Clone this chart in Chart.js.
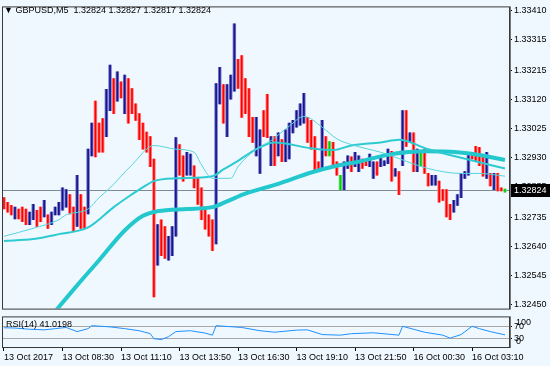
<!DOCTYPE html>
<html>
<head>
<meta charset="utf-8">
<script src="https://cdn.jsdelivr.net/npm/chart.js@4.4.0/dist/chart.umd.min.js"></script>
<style>
html, body { margin: 0; padding: 0; background: #f0f8ff; }
#wrap { position: relative; width: 550px; height: 366px; overflow: hidden; }
canvas { position: absolute; left: 0; }
#main { top: 0; }
#rsi { top: 310px; }
.lbl { position: absolute; font: 9px "Liberation Sans", Arial, sans-serif; color: #000; white-space: pre; z-index: 2; }
</style>
</head>
<body>
<div id="wrap">
  <canvas id="main" width="550" height="316"></canvas>
  <canvas id="rsi" width="550" height="56"></canvas>
  <div class="lbl" id="title" style="left:4px;top:5px"></div>
  <div class="lbl" id="rsiTitle" style="left:6px;top:319px"></div>
</div>
<script>
// GBPUSD M5, 13-16 Oct 2017. One drawn bar per two 5-minute periods.
const STEP = 2;

const tickIdx = [0, 32, 64, 96, 128, 160, 192, 224, 256];
const tickText = ['13 Oct 2017', '13 Oct 08:30', '13 Oct 11:10', '13 Oct 13:50', '13 Oct 16:30',
    '13 Oct 19:10', '13 Oct 21:50', '16 Oct 00:30', '16 Oct 03:10'];
const priceTicks = [1.33410, 1.33315, 1.33215, 1.33120, 1.33025, 1.32930, 1.32835,
    1.32735, 1.32640, 1.32545, 1.32450];
const lastQuote = [1.32824, 1.32827, 1.32817, 1.32824]; // open high low close
const rsiLast = 41.0198;

const barHigh = [
    1.32799, 1.32784, 1.32774, 1.32768, 1.32762, 1.32768, 1.32762, 1.32752, 1.32777, 1.32758,
    1.32768, 1.32790, 1.32743, 1.32752, 1.32768, 1.32784, 1.32831, 1.32825, 1.32809, 1.32768,
    1.32872, 1.32809, 1.32768, 1.32957, 1.33042, 1.33114, 1.33042, 1.33057, 1.33152, 1.33231,
    1.33187, 1.33209, 1.33177, 1.33199, 1.33187, 1.33155, 1.33105, 1.33073, 1.33042, 1.33013,
    1.32998, 1.32925, 1.32711, 1.32727, 1.32705, 1.32673, 1.32705, 1.32995, 1.32972, 1.32935,
    1.32947, 1.32941, 1.32903, 1.32862, 1.32831, 1.32768, 1.32743, 1.32727, 1.33171, 1.33224,
    1.33168, 1.33168, 1.33199, 1.33366, 1.33250, 1.33262, 1.33187, 1.33155, 1.33061, 1.33061,
    1.33020, 1.33083, 1.33136, 1.32998, 1.32998, 1.33010, 1.32988, 1.33020, 1.33042, 1.33051,
    1.33083, 1.33105, 1.33139, 1.33061, 1.33051, 1.32998, 1.32916, 1.33051, 1.32998, 1.32982,
    1.32979, 1.32916, 1.32872, 1.32916, 1.32935, 1.32932, 1.32947, 1.32935, 1.32925, 1.32919,
    1.32941, 1.32916, 1.32916, 1.32935, 1.32919, 1.32957, 1.32950, 1.32894, 1.32884, 1.33083,
    1.33083, 1.33010, 1.33010, 1.32957, 1.32950, 1.32957, 1.32878, 1.32872, 1.32872, 1.32853,
    1.32825, 1.32825, 1.32777, 1.32790, 1.32809, 1.32878, 1.32884, 1.32947, 1.32947, 1.32966,
    1.32963, 1.32935, 1.32947, 1.32878, 1.32878, 1.32878, 1.32831, 1.32827
];
const barLow = [
    1.32762, 1.32752, 1.32743, 1.32730, 1.32730, 1.32721, 1.32711, 1.32711, 1.32727, 1.32705,
    1.32721, 1.32736, 1.32699, 1.32711, 1.32743, 1.32743, 1.32758, 1.32768, 1.32746, 1.32689,
    1.32705, 1.32699, 1.32699, 1.32746, 1.32935, 1.32932, 1.32947, 1.32947, 1.32998, 1.33083,
    1.33073, 1.33114, 1.33124, 1.33073, 1.33042, 1.33073, 1.33051, 1.32988, 1.32957, 1.32947,
    1.32900, 1.32475, 1.32579, 1.32610, 1.32601, 1.32595, 1.32610, 1.32673, 1.32872, 1.32853,
    1.32872, 1.32872, 1.32831, 1.32777, 1.32727, 1.32696, 1.32673, 1.32626, 1.32648, 1.33105,
    1.33042, 1.32998, 1.33120, 1.33146, 1.33155, 1.33061, 1.33073, 1.32998, 1.32979, 1.32935,
    1.32878, 1.32998, 1.32995, 1.32903, 1.32903, 1.32935, 1.32916, 1.32916, 1.32925, 1.33010,
    1.33029, 1.33035, 1.33042, 1.32979, 1.32957, 1.32884, 1.32884, 1.32894, 1.32935, 1.32935,
    1.32903, 1.32872, 1.32825, 1.32825, 1.32894, 1.32884, 1.32900, 1.32884, 1.32894, 1.32903,
    1.32900, 1.32862, 1.32872, 1.32900, 1.32903, 1.32910, 1.32853, 1.32869, 1.32809, 1.32903,
    1.32966, 1.32979, 1.32884, 1.32884, 1.32903, 1.32878, 1.32837, 1.32840, 1.32840, 1.32784,
    1.32790, 1.32736, 1.32727, 1.32752, 1.32774, 1.32799, 1.32862, 1.32872, 1.32925, 1.32916,
    1.32903, 1.32869, 1.32862, 1.32837, 1.32825, 1.32821, 1.32821, 1.32817
];
// u = bull bar, d = bear bar, n = unchanged
const barDir =
    'ddduddduud' + 'duduuuuudd' + 'udduuddduu' + 'dududddddd' + 'ddudduuudd' +
    'uudddddduu' + 'duuudddddu' + 'uddududuuu' + 'uuuddddudn' + 'ddnuuduudd' +
    'uuduuududu' + 'dudundduud' + 'ddduuuuudd' + 'ddududdn';

// moving averages (position in 5-minute periods, value)
const maFastIdx = [0, 16, 30, 34, 46, 52, 58, 70, 82, 94, 104, 108, 114, 124, 128, 138, 146, 156,
    164, 174, 182, 190, 206, 212, 232, 250, 260, 274];
const maFastVal = [1.32673, 1.32699, 1.32727, 1.32743, 1.32762, 1.32799, 1.32831, 1.32906, 1.32969,
    1.32957, 1.32947, 1.32906, 1.32862, 1.32862, 1.32900, 1.32957, 1.32985, 1.33032, 1.33064,
    1.33029, 1.32991, 1.32972, 1.32947, 1.32935, 1.32894, 1.32878, 1.32878, 1.32869];
const maMidIdx = [0, 16, 30, 46, 60, 68, 74, 82, 94, 114, 120, 128, 138, 148, 168, 180, 190, 206,
    216, 232, 250, 274];
const maMidVal = [1.32658, 1.32664, 1.32680, 1.32702, 1.32768, 1.32802, 1.32825, 1.32853, 1.32862,
    1.32869, 1.32891, 1.32919, 1.32957, 1.32979, 1.32960, 1.32954, 1.32969, 1.32979, 1.32988,
    1.32957, 1.32929, 1.32894];
const maSlowIdx = [24, 40, 52, 66, 76, 84, 100, 114, 122, 132, 150, 168, 182, 194, 212, 230, 248, 260, 274];
const maSlowVal = [1.32400, 1.32513, 1.32595, 1.32692, 1.32740, 1.32755, 1.32762, 1.32768, 1.32787,
    1.32812, 1.32844, 1.32881, 1.32903, 1.32916, 1.32941, 1.32950, 1.32947, 1.32938, 1.32922];

const rsiIdx = [0, 6, 14, 22, 28, 34, 40, 46, 48, 58, 66, 74, 80, 82, 86, 90, 94, 102, 110, 114, 116,
    130, 140, 148, 160, 166, 174, 184, 190, 202, 216, 218, 230, 240, 244, 250, 256, 260, 266, 274];
const rsiVal = [65, 64, 60, 58, 62, 66, 52, 62, 72, 68, 62, 55, 45, 28, 25, 35, 52, 55, 47, 40, 72,
    66, 55, 50, 57, 58, 42, 40, 45, 48, 40, 70, 50, 40, 30, 42, 70, 62, 52, 41];

Chart.defaults.font.family = '"Liberation Sans", Arial, sans-serif';
Chart.defaults.font.size = 9;
Chart.defaults.color = '#000';

document.getElementById('title').textContent =
    '\u25BC GBPUSD,M5  ' + lastQuote.map(v => v.toFixed(5)).join(' ');
document.getElementById('rsiTitle').textContent = 'RSI(14) ' + rsiLast.toFixed(4);

const X_MIN = -1.09, X_MAX = 276.2;

const darkCol = { u: '#14148f', d: '#ff0000', n: '#00d000' };
const lightCol = { u: '#7676c8', d: '#ff7c7c', n: '#70e070' };
const barData = barHigh.map((h, i) => ({ x: i * STEP, y: [barLow[i], h] }));
const pts = (idx, val) => idx.map((x, i) => ({ x, y: val[i] }));

const framePlugin = {
    id: 'frame',
    afterDraw(chart) {
        const { ctx, chartArea: a } = chart;
        ctx.save();
        ctx.strokeStyle = '#3a3a3a';
        ctx.lineWidth = 1;
        ctx.strokeRect(a.left + 0.5, a.top - 0.5, a.right - a.left, a.bottom - a.top + 1);
        ctx.strokeStyle = '#777';
        ctx.beginPath();
        ctx.moveTo(a.right + 1.5, a.top - 1);
        ctx.lineTo(a.right + 1.5, a.bottom + 1);
        ctx.stroke();
        ctx.restore();
    }
};

const priceLinePlugin = {
    id: 'priceLine',
    beforeDatasetsDraw(chart) {
        const { ctx, chartArea: a, scales } = chart;
        const y = Math.round(scales.y.getPixelForValue(lastQuote[3])) + 0.5;
        ctx.save();
        ctx.strokeStyle = '#7d8b98';
        ctx.lineWidth = 1;
        ctx.beginPath();
        ctx.moveTo(a.left, y);
        ctx.lineTo(a.right, y);
        ctx.stroke();
        ctx.restore();
    },
    afterDraw(chart) {
        const { ctx, chartArea: a, scales } = chart;
        const y = Math.round(scales.y.getPixelForValue(lastQuote[3]));
        ctx.save();
        ctx.fillStyle = '#000';
        ctx.fillRect(a.right + 2, y - 6, chart.width - a.right - 2, 13);
        ctx.fillStyle = '#fff';
        ctx.font = '9px "Liberation Sans", Arial, sans-serif';
        ctx.textBaseline = 'middle';
        ctx.fillText(lastQuote[3].toFixed(5), a.right + 5, y + 0.5);
        ctx.restore();
    }
};

new Chart(document.getElementById('main'), {
    type: 'bar',
    data: {
        datasets: [
            { type: 'line', data: pts(maFastIdx, maFastVal), borderColor: '#55d4da', borderWidth: 1,
              pointRadius: 0, cubicInterpolationMode: 'monotone', order: 0 },
            { type: 'line', data: pts(maMidIdx, maMidVal), borderColor: '#2ccbd0', borderWidth: 2,
              pointRadius: 0, cubicInterpolationMode: 'monotone', order: 0 },
            { type: 'line', data: pts(maSlowIdx, maSlowVal), borderColor: '#22c8cd', borderWidth: 4,
              pointRadius: 0, cubicInterpolationMode: 'monotone', order: 0 },
            { data: barData, backgroundColor: barDir.split('').map(c => darkCol[c]),
              barThickness: 1, grouped: false, order: 1 },
            { data: barData, backgroundColor: barDir.split('').map(c => lightCol[c]),
              barThickness: 2.8, grouped: false, order: 2 }
        ]
    },
    options: {
        responsive: false,
        animation: false,
        events: [],
        layout: { padding: { left: 2, top: 3, bottom: 1, right: 0 } },
        plugins: { legend: { display: false }, tooltip: { enabled: false } },
        scales: {
            x: { type: 'linear', min: X_MIN, max: X_MAX, offset: false, display: false },
            y: {
                type: 'linear',
                position: 'right',
                min: 1.324372,
                max: 1.334194,
                afterBuildTicks: scale => { scale.ticks = priceTicks.map(v => ({ value: v })); },
                afterFit: scale => { scale.width = 41; },
                border: { display: false },
                grid: { drawOnChartArea: false, tickLength: 3, tickColor: '#000' },
                ticks: { autoSkip: false, padding: 2, callback: v => v.toFixed(5) }
            }
        }
    },
    plugins: [priceLinePlugin, framePlugin]
});

const rsiLabelPlugin = {
    id: 'rsiLabels',
    afterDraw(chart) {
        const { ctx, chartArea: a, scales } = chart;
        ctx.save();
        ctx.fillStyle = '#000';
        ctx.font = '9px "Liberation Sans", Arial, sans-serif';
        ctx.textBaseline = 'middle';
        ctx.fillText('100', a.right + 7, scales.y.getPixelForValue(100) + 5);
        ctx.fillText('0', a.right + 7, scales.y.getPixelForValue(0) - 5);
        ctx.restore();
    }
};

new Chart(document.getElementById('rsi'), {
    type: 'line',
    data: {
        datasets: [{
            data: pts(rsiIdx, rsiVal), borderColor: '#1e90ff', borderWidth: 1,
            pointRadius: 0, tension: 0
        }]
    },
    options: {
        responsive: false,
        animation: false,
        events: [],
        layout: { padding: { left: 2, top: 7, bottom: 0, right: 0 } },
        plugins: { legend: { display: false }, tooltip: { enabled: false } },
        scales: {
            x: {
                type: 'linear', min: X_MIN, max: X_MAX, offset: false,
                afterBuildTicks: scale => { scale.ticks = tickIdx.map(v => ({ value: v })); },
                afterFit: scale => { scale.height = 19; },
                border: { display: false },
                grid: { drawOnChartArea: false, tickLength: 4, tickColor: '#000' },
                ticks: { autoSkip: false, maxRotation: 0, align: 'start', padding: 1,
                         callback: v => tickText[tickIdx.indexOf(v)] }
            },
            y: {
                position: 'right', min: 0, max: 100,
                afterBuildTicks: scale => { scale.ticks = [70, 30].map(v => ({ value: v })); },
                afterFit: scale => { scale.width = 41; },
                border: { display: false },
                grid: { color: '#a8a8a8', borderDash: [3, 3], tickLength: 3, tickColor: '#000' },
                ticks: { autoSkip: false, padding: 2 }
            }
        }
    },
    plugins: [rsiLabelPlugin, framePlugin]
});
</script>
</body>
</html>
